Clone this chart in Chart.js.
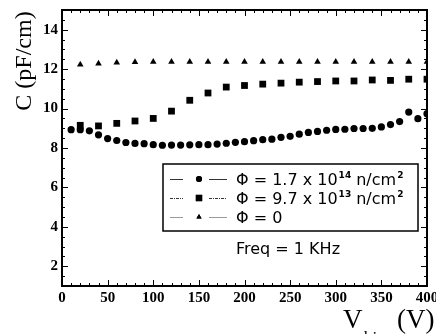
<!DOCTYPE html>
<html>
<head>
<meta charset="utf-8">
<script src="https://cdn.jsdelivr.net/npm/chart.js@4/dist/chart.umd.min.js"></script>
<style>
  html, body { margin: 0; padding: 0; background: #fff; }
  #wrap { width: 436px; height: 334px; }
</style>
</head>
<body>
<div id="wrap"><canvas id="capChart" width="436" height="334"></canvas></div>
<script>
// bias voltage (V) and capacitance (pF/cm)
const biasCircle = [10, 20, 30, 40, 50, 60, 70, 80, 90, 100, 110, 120, 130, 140, 150, 160, 170, 180, 190, 200,
                    210, 220, 230, 240, 250, 260, 270, 280, 290, 300, 310, 320, 330, 340, 350, 360, 370, 380, 390, 400];
const capCircle = [8.93, 8.93, 8.87, 8.67, 8.48, 8.38, 8.28, 8.23, 8.22, 8.17, 8.14, 8.15, 8.15, 8.16, 8.17, 8.17, 8.2, 8.24, 8.29, 8.32,
                   8.37, 8.42, 8.45, 8.54, 8.59, 8.7, 8.79, 8.84, 8.9, 8.94, 8.95, 8.99, 8.99, 9.0, 9.07, 9.19, 9.34, 9.82, 9.49, 9.74];

const biasSquare = [20, 40, 60, 80, 100, 120, 140, 160, 180, 200, 220, 240, 260, 280, 300, 320, 340, 360, 380, 400];
const capSquare = [9.15, 9.12, 9.25, 9.37, 9.5, 9.87, 10.42, 10.79, 11.09, 11.17, 11.24, 11.29, 11.34, 11.37, 11.4, 11.4, 11.45, 11.43, 11.49, 11.49];

const biasTriangle = [20, 40, 60, 80, 100, 120, 140, 160, 180, 200, 220, 240, 260, 280, 300, 320, 340, 360, 380, 400];
const capTriangle = [12.23, 12.28, 12.33, 12.36, 12.37, 12.37, 12.37, 12.37, 12.37, 12.37, 12.37, 12.37, 12.37, 12.37, 12.37, 12.37, 12.37, 12.37, 12.37, 12.37];

const xTickValues = [0, 50, 100, 150, 200, 250, 300, 350, 400];
const yTickValues = [2, 4, 6, 8, 10, 12, 14];

const legendRows = [
    { style: 'circle', dash: [], color: '#333', text: 'Φ = 1.7 x 10', sup: '14', tail: ' n/cm', sup2: '2' },
    { style: 'rect', dash: [3, 1, 1, 1], color: '#333', text: 'Φ = 9.7 x 10', sup: '13', tail: ' n/cm', sup2: '2' },
    { style: 'triangle', dash: [], color: '#999', text: 'Φ = 0', sup: '', tail: '', sup2: '' }
];

function toPoints(xs, ys) {
    return xs.map((x, i) => ({ x: x, y: ys[i] }));
}

// frame, inward ticks, legend box and titles
const decorPlugin = {
    id: 'decor',
    afterDraw(chart) {
        const ctx = chart.ctx;
        const a = chart.chartArea;
        const xs = chart.scales.x;
        const ys = chart.scales.y;
        ctx.save();
        ctx.strokeStyle = '#000';
        ctx.lineWidth = 2;
        ctx.strokeRect(a.left, a.top, a.right - a.left, a.bottom - a.top);

        // x ticks, every 10 V, major every 50
        ctx.lineWidth = 1;
        ctx.beginPath();
        for (let v = 10; v < 400; v += 10) {
            const px = Math.round(xs.getPixelForValue(v)) + 0.5;
            const len = v % 50 === 0 ? 6 : 3;
            ctx.moveTo(px, a.bottom); ctx.lineTo(px, a.bottom - len);
            ctx.moveTo(px, a.top); ctx.lineTo(px, a.top + len);
        }
        // y ticks, every 0.5, major every 2
        for (let v = 1.5; v < 15; v += 0.5) {
            const py = Math.round(ys.getPixelForValue(v)) + 0.5;
            const len = v % 2 === 0 ? 6 : 3;
            ctx.moveTo(a.left, py); ctx.lineTo(a.left + len, py);
            ctx.moveTo(a.right, py); ctx.lineTo(a.right - len, py);
        }
        ctx.stroke();

        // legend box
        const bx = 163, by = 164, bw = 255, bh = 67;
        ctx.lineWidth = 1.5;
        ctx.strokeRect(bx, by, bw, bh);
        const rowY = [179, 198, 217];
        legendRows.forEach((r, i) => {
            const y = rowY[i];
            ctx.strokeStyle = r.color;
            ctx.lineWidth = 1;
            ctx.setLineDash(r.dash);
            ctx.beginPath();
            ctx.moveTo(170, y + 0.5); ctx.lineTo(183, y + 0.5);
            ctx.moveTo(209, y + 0.5); ctx.lineTo(227, y + 0.5);
            ctx.stroke();
            ctx.setLineDash([]);
            ctx.fillStyle = '#000';
            Chart.helpers.drawPoint(ctx, { pointStyle: r.style, radius: r.style === 'rect' ? 4.5 : 3, rotation: 0, borderWidth: 0 }, 199, y);
            ctx.fill();
            ctx.textBaseline = 'alphabetic';
            ctx.textAlign = 'left';
            ctx.font = '16px "DejaVu Sans"';
            let tx = 236;
            const base = y + 6;
            ctx.fillText(r.text, tx, base);
            tx += ctx.measureText(r.text).width + 1;
            if (r.sup) {
                ctx.font = 'bold 9px "DejaVu Sans"';
                ctx.fillText(r.sup, tx, base - 7);
                tx += ctx.measureText(r.sup).width;
                ctx.font = '16px "DejaVu Sans"';
                ctx.fillText(r.tail, tx, base);
                tx += ctx.measureText(r.tail).width + 1;
                ctx.font = 'bold 9px "DejaVu Sans"';
                ctx.fillText(r.sup2, tx, base - 7);
            }
        });

        ctx.font = '16px "DejaVu Sans"';
        ctx.fillText('Freq = 1 KHz', 236, 254);

        // axis titles
        ctx.font = '27px "Liberation Serif"';
        ctx.fillText('V', 343, 328);
        ctx.font = '17px "Liberation Serif"';
        ctx.fillText('bias', 364, 343);
        ctx.font = '27px "Liberation Serif"';
        ctx.fillText('(V)', 397, 328);

        ctx.save();
        ctx.translate(31, 61);
        ctx.rotate(-Math.PI / 2);
        ctx.textAlign = 'center';
        ctx.font = '24px "Liberation Serif"';
        ctx.fillText('C (pF/cm)', 0, 0);
        ctx.restore();

        ctx.restore();
    }
};

const ctx = document.getElementById('capChart').getContext('2d');
const capChart = new Chart(ctx, {
    type: 'scatter',
    data: {
        datasets: [{
            label: 'Φ = 1.7 x 10^14 n/cm^2',
            data: toPoints(biasCircle, capCircle),
            pointStyle: 'circle',
            pointRadius: 3.6,
            backgroundColor: '#000',
            borderColor: '#000',
            borderWidth: 0
        }, {
            label: 'Φ = 9.7 x 10^13 n/cm^2',
            data: toPoints(biasSquare, capSquare),
            pointStyle: 'rect',
            pointRadius: 4.8,
            backgroundColor: '#000',
            borderColor: '#000',
            borderWidth: 0
        }, {
            label: 'Φ = 0',
            data: toPoints(biasTriangle, capTriangle),
            pointStyle: 'triangle',
            pointRadius: 3.8,
            backgroundColor: '#000',
            borderColor: '#000',
            borderWidth: 0
        }]
    },
    options: {
        responsive: false,
        animation: false,
        devicePixelRatio: 1,
        layout: { padding: { top: 10, right: 9, left: 0, bottom: 0 } },
        plugins: {
            legend: { display: false },
            tooltip: { enabled: false }
        },
        scales: {
            x: {
                type: 'linear',
                min: 0,
                max: 400,
                grid: { display: false, drawTicks: false },
                border: { display: false },
                afterBuildTicks: (s) => { s.ticks = xTickValues.map(v => ({ value: v })); },
                afterFit: (s) => { s.height = 48; s.paddingLeft = 0; s.paddingRight = 0; },
                ticks: {
                    padding: 3,
                    maxRotation: 0,
                    color: '#000',
                    font: { family: 'Liberation Serif', size: 15, weight: 'bold' }
                }
            },
            y: {
                type: 'linear',
                min: 1,
                max: 15,
                grid: { display: false, drawTicks: false },
                border: { display: false },
                afterBuildTicks: (s) => { s.ticks = yTickValues.map(v => ({ value: v })); },
                afterFit: (s) => { s.width = 62; s.paddingTop = 0; s.paddingBottom = 0; },
                ticks: {
                    padding: 4,
                    color: '#000',
                    font: { family: 'Liberation Serif', size: 15, weight: 'bold' }
                }
            }
        }
    },
    plugins: [decorPlugin]
});
</script>
</body>
</html>
